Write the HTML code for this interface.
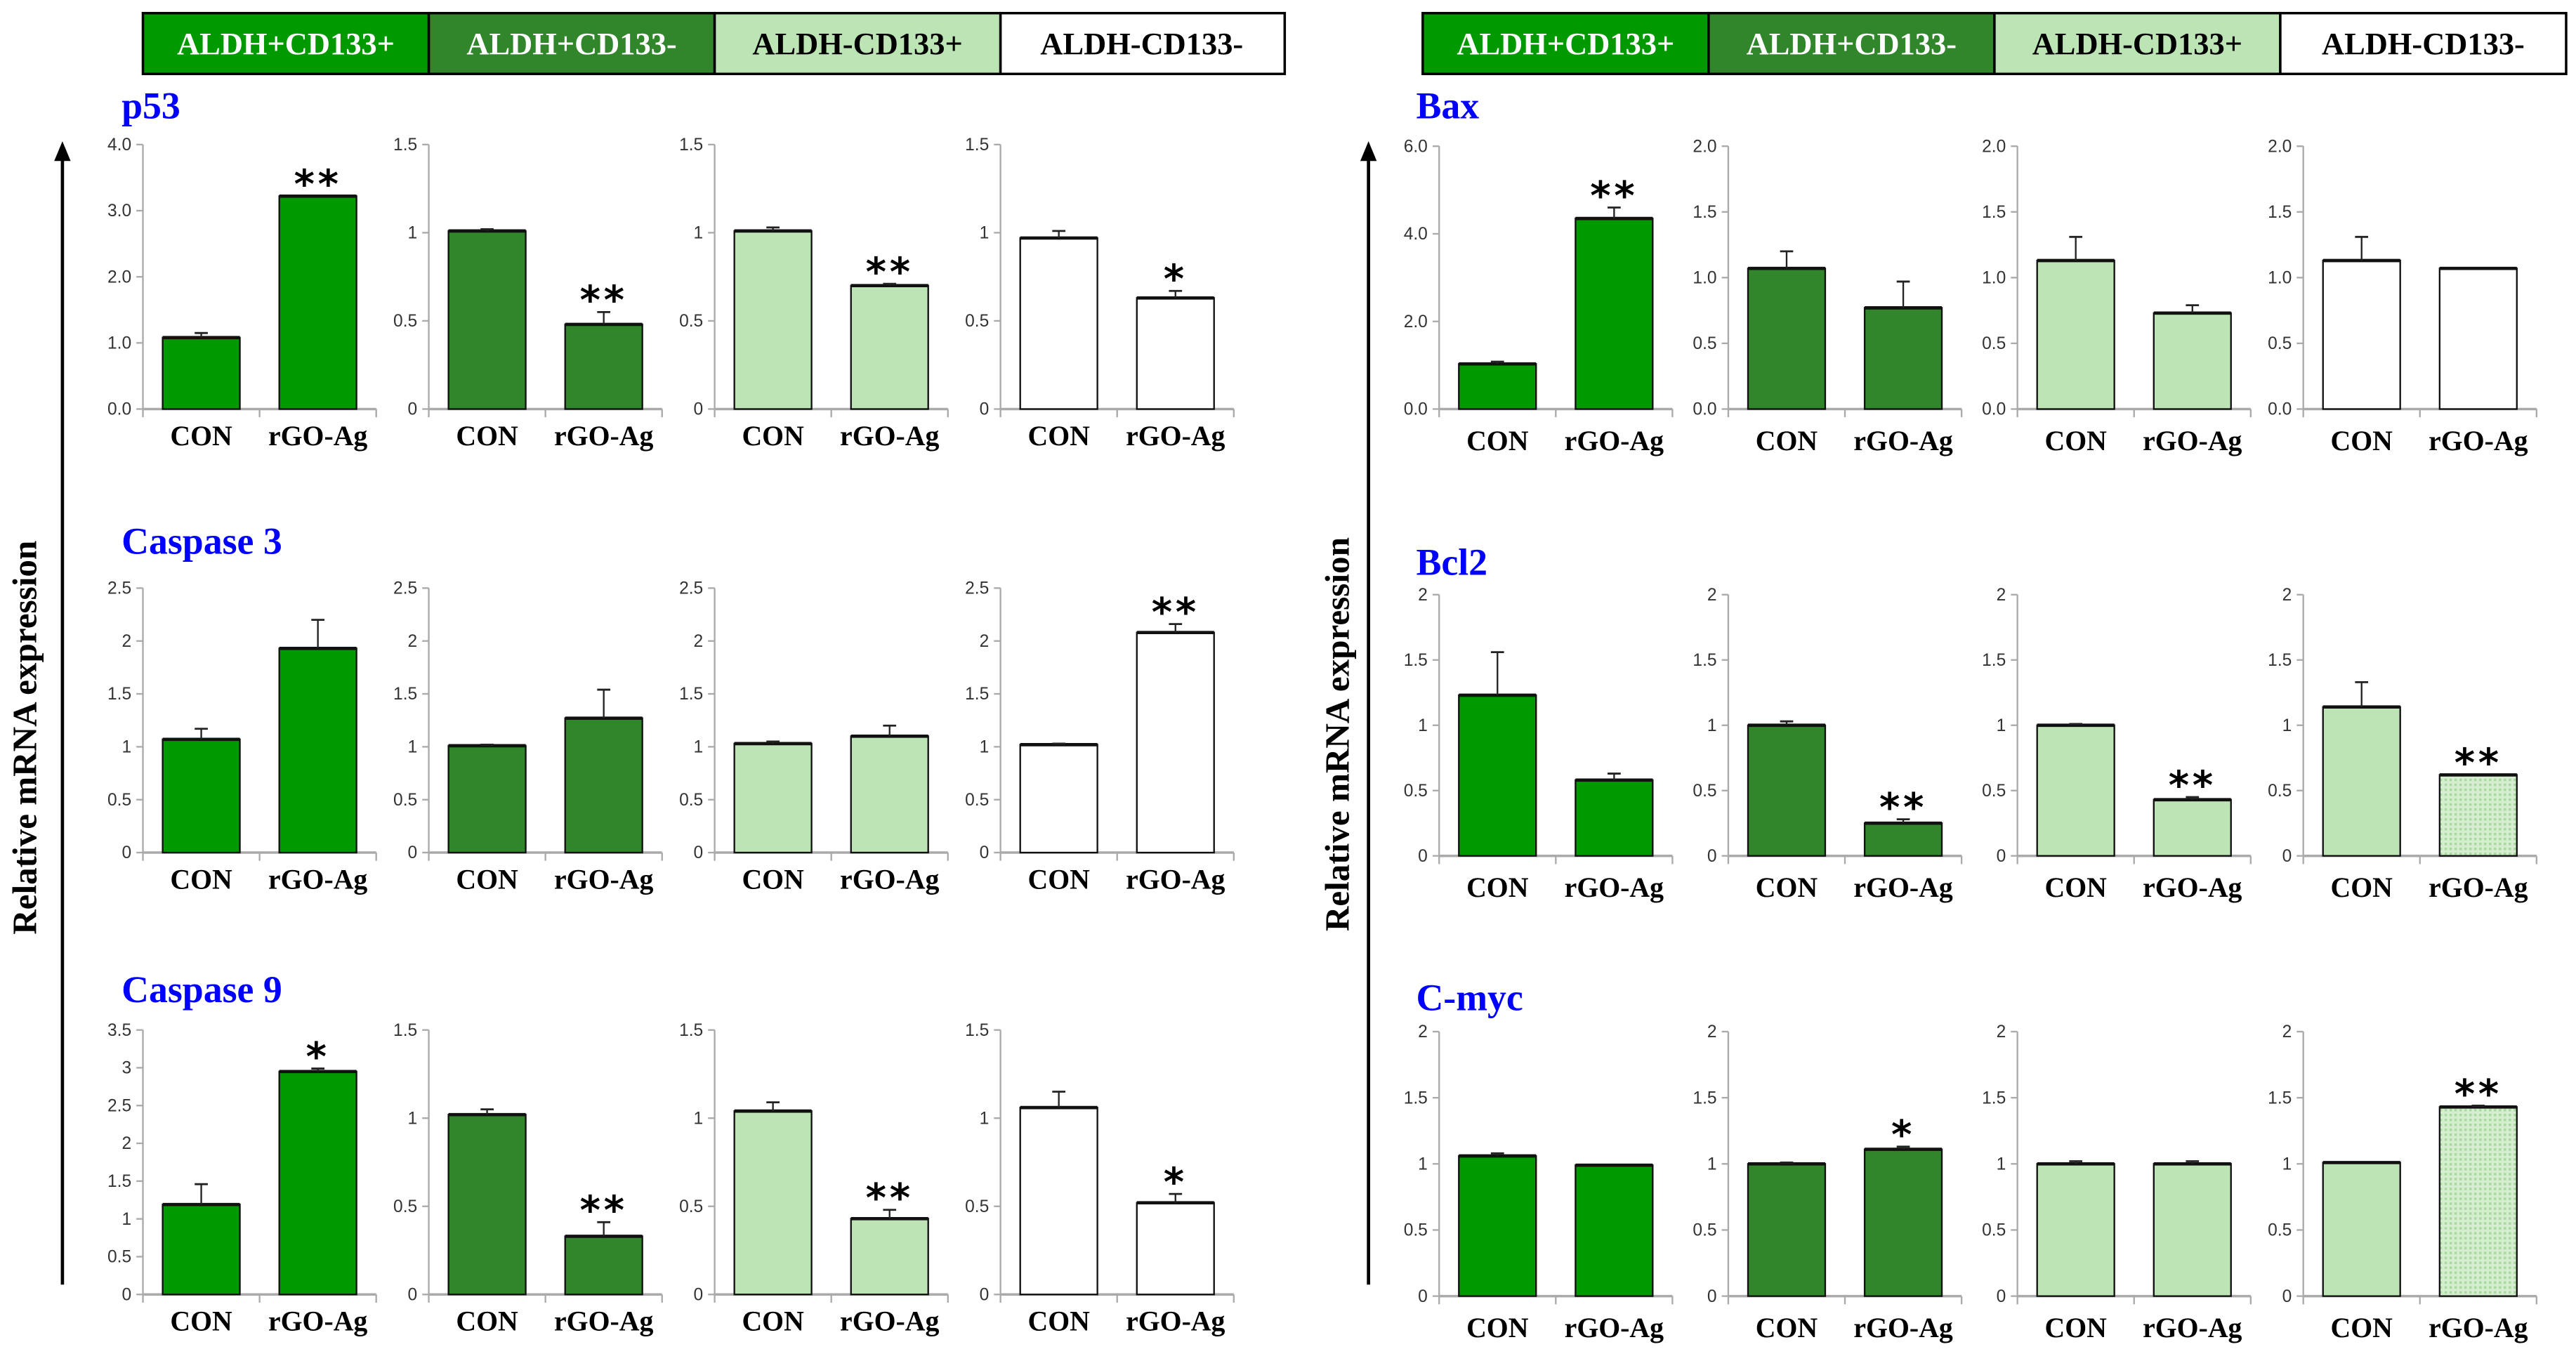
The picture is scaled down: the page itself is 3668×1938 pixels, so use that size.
<!DOCTYPE html>
<html><head><meta charset="utf-8">
<style>
html,body{margin:0;padding:0;background:#fff;}
svg{display:block;}
</style></head>
<body>
<svg id="fig" width="3668" height="1938" viewBox="0 0 1568 828.5" preserveAspectRatio="none" xmlns="http://www.w3.org/2000/svg">
  <g font-family="Liberation Serif, serif" font-weight="bold" font-size="19" text-anchor="middle">
    <rect x="87" y="8" width="174" height="37" fill="#009900" stroke="#000" stroke-width="1.5"/>
    <text x="174" y="33" fill="#fff">ALDH+CD133+</text>
    <rect x="261" y="8" width="174" height="37" fill="#31862c" stroke="#000" stroke-width="1.5"/>
    <text x="348" y="33" fill="#fff">ALDH+CD133-</text>
    <rect x="435" y="8" width="174" height="37" fill="#bde4b4" stroke="#000" stroke-width="1.5"/>
    <text x="522" y="33" fill="#000">ALDH-CD133+</text>
    <rect x="609" y="8" width="173" height="37" fill="#fff" stroke="#000" stroke-width="1.5"/>
    <text x="695" y="33" fill="#000">ALDH-CD133-</text>
  </g>
  <g font-family="Liberation Serif, serif" font-weight="bold" font-size="19" text-anchor="middle">
    <rect x="866" y="8" width="174" height="37" fill="#009900" stroke="#000" stroke-width="1.5"/>
    <text x="953" y="33" fill="#fff">ALDH+CD133+</text>
    <rect x="1040" y="8" width="174" height="37" fill="#31862c" stroke="#000" stroke-width="1.5"/>
    <text x="1127" y="33" fill="#fff">ALDH+CD133-</text>
    <rect x="1214" y="8" width="174" height="37" fill="#bde4b4" stroke="#000" stroke-width="1.5"/>
    <text x="1301" y="33" fill="#000">ALDH-CD133+</text>
    <rect x="1388" y="8" width="174" height="37" fill="#fff" stroke="#000" stroke-width="1.5"/>
    <text x="1475" y="33" fill="#000">ALDH-CD133-</text>
  </g>
  <defs>
    <pattern id="hatch" width="3" height="3" patternUnits="userSpaceOnUse">
      <rect width="3" height="3" fill="#d6eed0"/>
      <rect width="1.5" height="1.5" fill="#a9d9a0"/>
    </pattern>
  </defs>
  <g>
    <line x1="38" y1="96" x2="38" y2="782" stroke="#000" stroke-width="2"/>
    <polygon points="33,98 38,86 43,98" fill="#000"/>
  </g>
  <text transform="translate(22,449) rotate(-90)" text-anchor="middle" font-family="Liberation Serif, serif" font-weight="bold" font-size="21">Relative mRNA expression</text>
  <g>
    <line x1="833" y1="96" x2="833" y2="782" stroke="#000" stroke-width="2"/>
    <polygon points="828,98 833,86 838,98" fill="#000"/>
  </g>
  <text transform="translate(821,447) rotate(-90)" text-anchor="middle" font-family="Liberation Serif, serif" font-weight="bold" font-size="21">Relative mRNA expression</text>
  <g id="panels"></g>
</svg>
<script>
// ---- data ----
const geneTitles = ["p53","Caspase 3","Caspase 9","Bax","Bcl2","C-myc"];
const categories = ["CON","rGO-Ag"];
const conValues = [1.08,1.01,1.01,0.97, 1.07,1.01,1.03,1.02, 1.19,1.02,1.04,1.06,
                   1.03,1.07,1.13,1.13, 1.23,1.00,1.00,1.14, 1.06,1.00,1.00,1.01];
const conErrors = [0.07,0.01,0.02,0.04, 0.10,0.01,0.02,0.01, 0.27,0.03,0.05,0.09,
                   0.05,0.13,0.18,0.18, 0.33,0.03,0.01,0.19, 0.02,0.01,0.02,0.00];
const rgoValues = [3.22,0.48,0.70,0.63, 1.93,1.27,1.10,2.08, 2.95,0.33,0.43,0.52,
                   4.35,0.77,0.73,1.07, 0.58,0.25,0.43,0.62, 0.99,1.11,1.00,1.43];
const rgoErrors = [0.00,0.07,0.01,0.04, 0.27,0.27,0.10,0.08, 0.04,0.08,0.05,0.05,
                   0.25,0.20,0.06,0.00, 0.05,0.03,0.02,0.00, 0.00,0.02,0.02,0.01];
const yMax      = [4,1.5,1.5,1.5, 2.5,2.5,2.5,2.5, 3.5,1.5,1.5,1.5,
                   6,2,2,2, 2,2,2,2, 2,2,2,2];
const yStep     = [1,0.5,0.5,0.5, 0.5,0.5,0.5,0.5, 0.5,0.5,0.5,0.5,
                   2,0.5,0.5,0.5, 0.5,0.5,0.5,0.5, 0.5,0.5,0.5,0.5];
const tickDecimals = [1,0,0,0, 0,0,0,0, 0,0,0,0, 1,1,1,1, 0,0,0,0, 0,0,0,0];
const stars     = ["**","**","**","*", "","","","**", "*","**","**","*",
                   "**","","","", "","**","**","**", "","*","","**"];

// ---- layout (not data) ----
const leftAxisX = [87,261,435,609], rightAxisX = [876,1052,1228,1402];
const leftRows = [[88,249],[358,519],[627,788]], rightRows = [[89,249],[362,521],[628,789]];
const leftTitleY = [72,337,610], rightTitleY = [72,350,615];
const colColors = ["#009900","#31862c","#bde4b4","#ffffff"];
const NS = "http://www.w3.org/2000/svg";
const root = document.getElementById('panels');
const PW = 142;

function mk(tag, attrs, parent){
  const e = document.createElementNS(NS, tag);
  for (const k in attrs) e.setAttribute(k, attrs[k]);
  parent.appendChild(e); return e;
}
function fmt(v, d){
  if (d) return v.toFixed(1);
  return String(Math.round(v*10)/10);
}

for (let side=0; side<2; side++){
  for (let r=0; r<3; r++){
    const tY = side ? rightTitleY[r] : leftTitleY[r];
    const tx = side ? 862 : 74;
    const title = mk('text',{x:tx,y:tY,fill:'#0000ff','font-family':'Liberation Serif, serif','font-weight':'bold','font-size':23},root);
    title.textContent = geneTitles[side*3+r];
    
    
    for (let c=0; c<4; c++){
      const i = side*12 + r*4 + c;
      const ax = side ? rightAxisX[c] : leftAxisX[c];
      const [top,bot] = side ? rightRows[r] : leftRows[r];
      const g = mk('g',{},root);
      
      
      const yS = v => bot - (v / yMax[i]) * (bot - top);
      const xC = k => ax + 35.5 + k*71;
      mk('line',{x1:ax,y1:top,x2:ax,y2:bot,stroke:'#aaa','stroke-width':1},g);
      mk('line',{x1:ax,y1:bot,x2:ax+PW,y2:bot,stroke:'#aaa','stroke-width':1.5},g);
      [ax, ax+71, ax+PW].forEach(x=>mk('line',{x1:x,y1:bot,x2:x,y2:bot+5,stroke:'#aaa','stroke-width':1},g));
      for (let t=0; t<=yMax[i]+1e-9; t+=yStep[i]){
        const y = yS(t);
        mk('line',{x1:ax-4,y1:y,x2:ax,y2:y,stroke:'#aaa','stroke-width':1},g);
        const tl = mk('text',{x:ax-7,y:y+3.5,'text-anchor':'end','font-family':'Liberation Sans, sans-serif','font-size':10.5,fill:'#333'},g);
        tl.textContent = fmt(t, tickDecimals[i]);
        
        
      }
      const vals = [conValues[i], rgoValues[i]], errs = [conErrors[i], rgoErrors[i]];
      let fill = colColors[c];
      if (side===1 && r>0 && c===3) fill = colColors[2];
      for (let k=0; k<2; k++){
        const yt = yS(vals[k]);
        let f = fill;
        if (side===1 && r>0 && c===3 && k===1) f = 'url(#hatch)';
        const b = mk('rect',{x:xC(k)-23.5,y:yt,width:47,height:bot-yt,fill:f,stroke:'#111','stroke-width':1},g);
        
        
        mk('line',{x1:xC(k)-23.5,y1:yt,x2:xC(k)+23.5,y2:yt,stroke:'#111','stroke-width':2},g);
        if (errs[k] > 0){
          const ye = yS(vals[k]+errs[k]);
          mk('line',{x1:xC(k),y1:yt,x2:xC(k),y2:ye,stroke:'#222','stroke-width':1},g);
          mk('line',{x1:xC(k)-4,y1:ye,x2:xC(k)+4,y2:ye,stroke:'#222','stroke-width':1.2},g);
        }
        const cl = mk('text',{x:xC(k),y:bot+(side?25:22),'text-anchor':'middle','font-family':'Liberation Serif, serif','font-weight':'bold','font-size':17,fill:'#000'},g);
        cl.textContent = categories[k];
        
        
      }
      if (stars[i]){
        const ye = yS(rgoValues[i]+rgoErrors[i]);
        const s = mk('text',{x:xC(1),y:ye+1,'text-anchor':'middle','font-family':'DejaVu Sans, sans-serif','font-weight':'bold','font-size':24,'letter-spacing':2,fill:'#000'},g);
        s.textContent = stars[i];
        
        
      }
    }
  }
}
</script>
</body></html>
